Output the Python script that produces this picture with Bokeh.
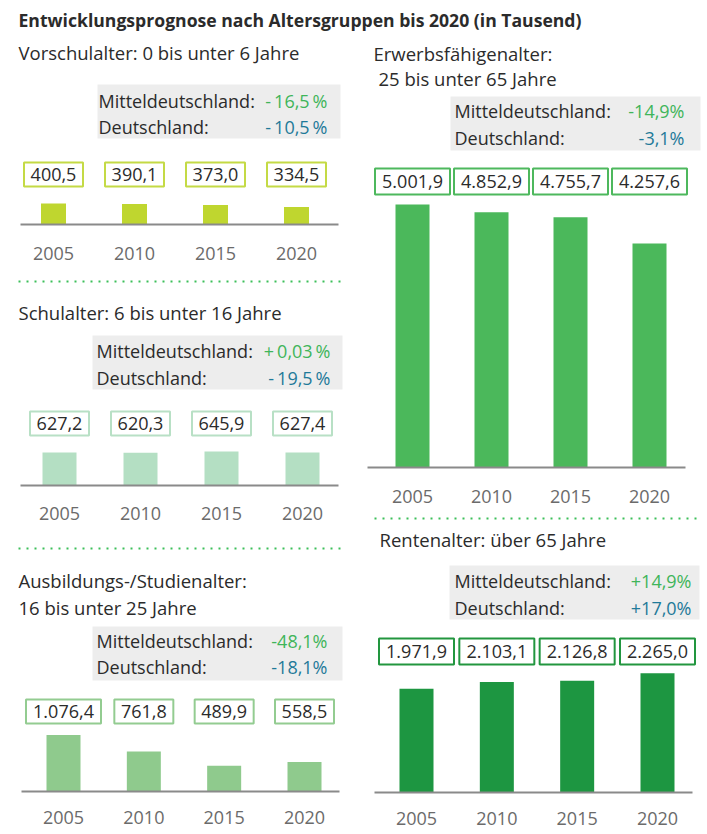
from bokeh.plotting import figure
from bokeh.models import Range1d
from bokeh.core.properties import value
from bokeh.embed import file_html
from bokeh.resources import INLINE

# ---------------- data ----------------
title = "Entwicklungsprognose nach Altersgruppen bis 2020 (in Tausend)"
years = [2005, 2010, 2015, 2020]
year_labels = ["2005", "2010", "2015", "2020"]

vorschul = [400.5, 390.1, 373.0, 334.5]
schul = [627.2, 620.3, 645.9, 627.4]
ausbildung = [1076.4, 761.8, 489.9, 558.5]
erwerbs = [5001.9, 4852.9, 4755.7, 4257.6]
rente = [1971.9, 2103.1, 2126.8, 2265.0]

subtitles = [
    ["Vorschulalter: 0 bis unter 6 Jahre"],
    ["Schulalter: 6 bis unter 16 Jahre"],
    ["Ausbildungs-/Studienalter:", "16 bis unter 25 Jahre"],
    ["Erwerbsfähigenalter:", "25 bis unter 65 Jahre"],
    ["Rentenalter: über 65 Jahre"],
]
pct_mittel = ["-\u200916,5\u2009%", "+\u20090,03\u2009%", "-48,1%", "-14,9%", "+14,9%"]
pct_de = ["-\u200910,5\u2009%", "-\u200919,5\u2009%", "-18,1%", "-3,1%", "+17,0%"]
label_mittel = "Mitteldeutschland:"
label_de = "Deutschland:"

series = [vorschul, schul, ausbildung, erwerbs, rente]


def de_fmt(v):
    s = f"{v:,.1f}"
    return s.replace(",", "X").replace(".", ",").replace("X", ".")


# ---------------- layout / style ----------------
W, H = 707, 834
X0, Y0 = 0, 0          # data coords == screen coords
K = 0.0526             # px per thousand (shared value scale)
FONT = "Open Sans"
DARK = "#2b2b2b"
GREY_TXT = "#6b6b6b"
GREEN_TXT = "#3fb55a"
BLUE_TXT = "#1f7a99"
DOT = "#3cbf5a"
FS = "18px"

panels = [
    dict(x0=53, x1=296, yb=224, bw=25, by=174, bh=24, yy=253, base=(20, 338),
         grey=(97, 340, 84, 138), rows=(100, 126), lx=98, vx=327,
         sub=[(18, 52)], bar="#bfd62f", box="#c4da45"),
    dict(x0=59, x1=302, yb=485, bw=34, by=423, bh=24, yy=513, base=(20, 338),
         grey=(92, 342, 335, 389), rows=(350, 377), lx=96, vx=330,
         sub=[(18, 312)], bar="#b4dfc3", box="#b8e0c5"),
    dict(x0=63, x1=304, yb=791, bw=34, by=711, bh=24, yy=817, base=(21, 339),
         grey=(92, 342, 626, 680), rows=(640, 666), lx=96, vx=327,
         sub=[(18, 580), (18, 607)], bar="#8fca8d", box="#93cc91"),
    dict(x0=412, x1=649, yb=467, bw=34, by=181, bh=26, yy=496, base=(367, 685),
         grey=(450, 700, 96, 150), rows=(110, 137), lx=454, vx=684,
         sub=[(373, 53), (378, 78)], bar="#4bb85b", box="#4db85d"),
    dict(x0=416, x1=657, yb=792, bw=34, by=651, bh=26, yy=818, base=(374, 692),
         grey=(449, 699, 565, 619), rows=(580, 607), lx=454, vx=691,
         sub=[(379, 539)], bar="#1d9641", box="#22963f"),
]

extra_x, extra_y = {}, {}
for i, c in enumerate(panels):
    s = (c["x1"] - c["x0"]) / (years[-1] - years[0])
    extra_x[f"x{i}"] = Range1d(start=years[0] + (X0 - c["x0"]) / s,
                               end=years[0] + (X0 + W - c["x0"]) / s)
    extra_y[f"y{i}"] = Range1d(start=-(Y0 + H - c["yb"]) / K, end=(c["yb"] - Y0) / K)
    c["s"] = s

p = figure(width=W, height=H, output_backend="svg", toolbar_location=None,
           x_range=Range1d(X0, X0 + W), y_range=Range1d(Y0 + H, Y0),
           x_axis_location=None, y_axis_location=None, min_border=0,
           outline_line_color=None, background_fill_color="white",
           border_fill_color="white")
p.grid.visible = False
p.extra_x_ranges = extra_x
p.extra_y_ranges = extra_y

# title
p.text(x=[18], y=[19], text=[title], text_font=value(FONT), text_font_style="bold",
       text_font_size="17.6px", text_color=DARK, text_baseline="middle")

# separators
p.segment(x0=[18, 18, 374], y0=[281, 548, 518], x1=[342, 342, 700], y1=[281, 548, 518],
          line_color=DOT, line_width=2, line_dash="2 6")

for i, (c, vals) in enumerate(zip(panels, series)):
    xr, yr = f"x{i}", f"y{i}"
    # subtitles
    for (sx, sy), line in zip(c["sub"], subtitles[i]):
        p.text(x=[sx], y=[sy], text=[line], text_font=value(FONT), text_font_size="18.5px",
               text_color=DARK, text_baseline="middle")
    # grey box
    gl, gr, gt, gb = c["grey"]
    p.quad(left=[gl], right=[gr], top=[gt], bottom=[gb], fill_color="#ededed", line_color=None)
    p.text(x=[c["lx"], c["lx"]], y=list(c["rows"]), text=[label_mittel, label_de],
           text_font=value(FONT), text_font_size=FS, text_color=DARK, text_baseline="middle")
    p.text(x=[c["vx"]], y=[c["rows"][0]], text=[pct_mittel[i]], text_font=value(FONT),
           text_font_size=FS, text_color=GREEN_TXT, text_baseline="middle", text_align="right")
    p.text(x=[c["vx"]], y=[c["rows"][1]], text=[pct_de[i]], text_font=value(FONT),
           text_font_size=FS, text_color=BLUE_TXT, text_baseline="middle", text_align="right")
    # bars
    p.vbar(x=years, top=vals, bottom=0, width=c["bw"] / c["s"], fill_color=c["bar"],
           line_color=None, x_range_name=xr, y_range_name=yr)
    # baseline
    p.segment(x0=[c["base"][0]], y0=[c["yb"]], x1=[c["base"][1]], y1=[c["yb"]],
              line_color="#8a8a8a", line_width=2)
    # value boxes
    labels = [de_fmt(v) for v in vals]
    widths = [19 + 8 * len(t) for t in labels]
    p.rect(x=years, y=[c["by"]] * 4, width=widths, height=c["bh"], width_units="screen",
           height_units="screen", fill_color="white", line_color=c["box"], line_width=2,
           x_range_name=xr)
    p.text(x=years, y=[c["by"]] * 4, text=labels, text_font=value(FONT), text_font_size=FS,
           text_color=DARK, text_align="center", text_baseline="middle", x_range_name=xr)
    # year labels
    p.text(x=years, y=[c["yy"]] * 4, text=year_labels, text_font=value(FONT),
           text_font_size=FS, text_color=GREY_TXT, text_align="center",
           text_baseline="middle", x_range_name=xr)

open("out.html", "w").write(file_html(p, INLINE))
